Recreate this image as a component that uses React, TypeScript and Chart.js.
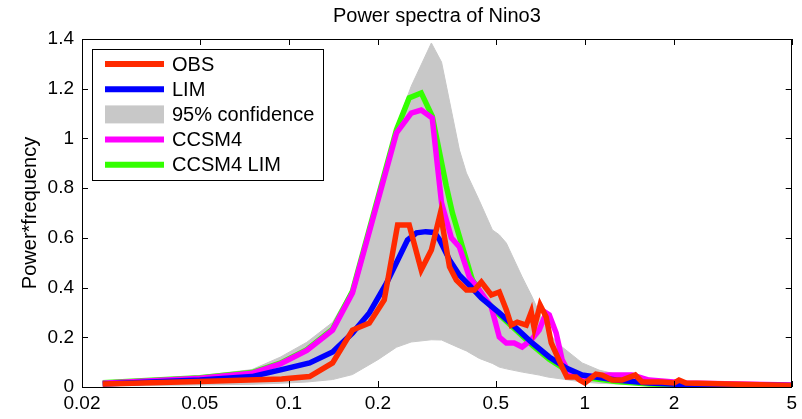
import React, { useEffect, useRef } from "react";
import { Chart, registerables } from "chart.js";

Chart.register(...registerables);

const FONT = '"Liberation Sans", Arial, Helvetica, sans-serif';

// ---- data ----
const xTickValues = [0.02, 0.05, 0.1, 0.2, 0.5, 1, 2, 5];

const obsFreq = [0.0235, 0.05, 0.0945, 0.1175, 0.1405, 0.164, 0.187, 0.21, 0.233, 0.255, 0.28, 0.303, 0.325, 0.349, 0.368, 0.398, 0.423, 0.447, 0.483, 0.514, 0.543, 0.564, 0.591, 0.634, 0.659, 0.674, 0.706, 0.74, 0.77, 0.838, 0.87, 0.934, 0.96, 1.0, 1.09, 1.144, 1.236, 1.335, 1.48, 1.56, 1.686, 1.822, 2.0, 2.08, 2.196, 5.0];
const obsPower = [0.012, 0.022, 0.032, 0.042, 0.097, 0.229, 0.257, 0.35, 0.652, 0.652, 0.471, 0.551, 0.7, 0.483, 0.43, 0.39, 0.39, 0.422, 0.37, 0.382, 0.31, 0.249, 0.261, 0.249, 0.302, 0.237, 0.33, 0.282, 0.177, 0.08, 0.04, 0.04, 0.028, 0.016, 0.052, 0.048, 0.028, 0.028, 0.048, 0.02, 0.02, 0.02, 0.016, 0.028, 0.016, 0.006];

const limFreq = [0.0235, 0.05, 0.075, 0.0945, 0.1175, 0.1405, 0.164, 0.187, 0.2137, 0.2516, 0.27, 0.29, 0.31, 0.322, 0.349, 0.377, 0.407, 0.447, 0.514, 0.586, 0.664, 0.758, 0.865, 0.979, 1.275, 1.647, 2.128, 5.0];
const limPower = [0.012, 0.028, 0.042, 0.07, 0.097, 0.141, 0.217, 0.298, 0.418, 0.591, 0.62, 0.625, 0.622, 0.595, 0.511, 0.45, 0.41, 0.358, 0.298, 0.237, 0.177, 0.121, 0.076, 0.048, 0.028, 0.016, 0.01, 0.006];

const ccsmFreq = [0.0235, 0.05, 0.075, 0.0935, 0.115, 0.1405, 0.164, 0.231, 0.259, 0.28, 0.305, 0.328, 0.354, 0.377, 0.407, 0.44, 0.483, 0.514, 0.543, 0.577, 0.614, 0.659, 0.701, 0.74, 0.758, 0.8, 0.838, 0.885, 0.979, 1.207, 1.444, 1.647, 2.2, 5.0];
const ccsmPower = [0.015, 0.035, 0.055, 0.093, 0.147, 0.229, 0.378, 1.022, 1.102, 1.114, 1.082, 0.74, 0.6, 0.563, 0.443, 0.39, 0.322, 0.201, 0.177, 0.177, 0.161, 0.189, 0.229, 0.298, 0.29, 0.217, 0.109, 0.056, 0.04, 0.048, 0.048, 0.028, 0.016, 0.008];

const ccsmLimFreq = [0.0235, 0.05, 0.075, 0.0935, 0.115, 0.1405, 0.164, 0.231, 0.255, 0.28, 0.305, 0.34, 0.357, 0.386, 0.417, 0.465, 0.514, 0.586, 0.664, 0.758, 0.865, 0.979, 1.275, 1.647, 2.128, 5.0];
const ccsmLimPower = [0.017, 0.037, 0.058, 0.096, 0.15, 0.233, 0.385, 1.035, 1.163, 1.183, 1.09, 0.81, 0.7, 0.563, 0.43, 0.345, 0.29, 0.228, 0.168, 0.112, 0.068, 0.04, 0.022, 0.012, 0.008, 0.004];

const confFreq = [0.0235, 0.05, 0.075, 0.0935, 0.115, 0.1405, 0.164, 0.2, 0.231, 0.259, 0.303, 0.328, 0.377, 0.398, 0.44, 0.487, 0.514, 0.543, 0.614, 0.664, 0.701, 0.75, 0.838, 0.979, 1.117, 1.444, 1.9, 5.0];
const confUpper = [0.022, 0.045, 0.07, 0.12, 0.18, 0.26, 0.4, 0.74, 1.05, 1.21, 1.384, 1.307, 0.953, 0.861, 0.75, 0.632, 0.612, 0.579, 0.443, 0.362, 0.3, 0.22, 0.161, 0.097, 0.068, 0.036, 0.02, 0.012];
const confLower = [0.004, 0.008, 0.011, 0.015, 0.02, 0.03, 0.05, 0.11, 0.16, 0.181, 0.19, 0.189, 0.157, 0.145, 0.115, 0.095, 0.08, 0.073, 0.06, 0.053, 0.048, 0.04, 0.032, 0.02, 0.015, 0.01, 0.008, 0.003];

const legendLabels = ["OBS", "LIM", "95% confidence", "CCSM4", "CCSM4 LIM"];

// ---- styles ----
const RED = "#ff2a00";
const BLUE = "#0000ff";
const MAGENTA = "#ff00ff";
const GREEN = "#33ff00";
const GRAY = "#c8c8c8";
const legendColors = [RED, BLUE, GRAY, MAGENTA, GREEN];
const legendIsPatch = [false, false, true, false, false];

const toPoints = (xs: number[], ys: number[]) => xs.map((x, i) => ({ x, y: ys[i] }));

const boxAndTicks = {
  id: "boxAndTicks",
  afterDatasetsDraw(chart: any) {
    const { ctx, chartArea } = chart;
    const { left, right, top, bottom } = chartArea;
    const xs = chart.scales.x;
    const ys = chart.scales.y;
    const L = 6;
    ctx.save();
    ctx.strokeStyle = "#000";
    ctx.lineWidth = 1;
    ctx.beginPath();
    xs.ticks.forEach((t: any) => {
      const px = Math.round(xs.getPixelForValue(t.value)) + 0.5;
      ctx.moveTo(px, bottom);
      ctx.lineTo(px, bottom - L);
      ctx.moveTo(px, top);
      ctx.lineTo(px, top + L);
    });
    ys.ticks.forEach((t: any) => {
      const py = Math.round(ys.getPixelForValue(t.value)) + 0.5;
      ctx.moveTo(left, py);
      ctx.lineTo(left + L, py);
      ctx.moveTo(right, py);
      ctx.lineTo(right - L, py);
    });
    ctx.stroke();
    ctx.strokeRect(Math.round(left) + 0.5, Math.round(top) + 0.5, Math.round(right - left) - 1, Math.round(bottom - top));
    ctx.restore();
  },
};

const insideLegend = {
  id: "insideLegend",
  afterDraw(chart: any) {
    const { ctx, chartArea } = chart;
    const bx = Math.round(chartArea.left) + 10;
    const by = Math.round(chartArea.top) + 10;
    const bw = 231;
    const bh = 131;
    ctx.save();
    ctx.fillStyle = "#fff";
    ctx.fillRect(bx, by, bw, bh);
    ctx.strokeStyle = "#000";
    ctx.lineWidth = 1;
    ctx.strokeRect(bx + 0.5, by + 0.5, bw, bh);
    ctx.font = `20px ${FONT}`;
    ctx.textBaseline = "middle";
    ctx.textAlign = "left";
    legendLabels.forEach((label, i) => {
      const cy = by + 15 + i * 25.2;
      if (legendIsPatch[i]) {
        ctx.fillStyle = legendColors[i];
        ctx.fillRect(bx + 13, cy - 9, 59, 18);
      } else {
        ctx.strokeStyle = legendColors[i];
        ctx.lineWidth = 6;
        ctx.beginPath();
        ctx.moveTo(bx + 13, cy);
        ctx.lineTo(bx + 72, cy);
        ctx.stroke();
      }
      ctx.fillStyle = "#000";
      ctx.fillText(label, bx + 80, cy + 1);
    });
    ctx.restore();
  },
};

export default function App() {
  const ref = useRef<HTMLCanvasElement | null>(null);

  useEffect(() => {
    if (!ref.current) return;
    const lineDs = (label: string, xs: number[], ys: number[], color: string) => ({
      label,
      data: toPoints(xs, ys),
      borderColor: color,
      backgroundColor: color,
      borderWidth: 5.5,
      pointRadius: 0,
      tension: 0,
      fill: false,
    });
    const chart = new Chart(ref.current, {
      type: "line",
      data: {
        datasets: [
          lineDs("OBS", obsFreq, obsPower, RED),
          lineDs("LIM", limFreq, limPower, BLUE),
          lineDs("CCSM4", ccsmFreq, ccsmPower, MAGENTA),
          lineDs("CCSM4 LIM", ccsmLimFreq, ccsmLimPower, GREEN),
          {
            label: "95% confidence",
            data: toPoints(confFreq, confUpper),
            borderColor: GRAY,
            backgroundColor: GRAY,
            borderWidth: 1,
            pointRadius: 0,
            tension: 0,
            fill: "+1",
          },
          {
            label: "conf lower",
            data: toPoints(confFreq, confLower),
            borderColor: GRAY,
            backgroundColor: GRAY,
            borderWidth: 1,
            pointRadius: 0,
            tension: 0,
            fill: false,
          },
        ] as any,
      },
      options: {
        responsive: false,
        animation: false,
        events: [],
        layout: { padding: { left: 0, right: 9, top: 0, bottom: 0 } },
        plugins: {
          legend: { display: false },
          tooltip: { enabled: false },
          title: {
            display: true,
            text: "Power spectra of Nino3",
            color: "#000",
            fullSize: false,
            font: { family: FONT, size: 20, weight: "normal" as any },
            padding: { top: 4, bottom: 11 },
          },
        },
        scales: {
          x: {
            type: "logarithmic",
            min: 0.02,
            max: 5,
            grid: { display: false, drawTicks: false, tickLength: 0 },
            border: { display: false },
            afterBuildTicks: (scale: any) => {
              scale.ticks = xTickValues.map((v) => ({ value: v }));
            },
            afterFit: (scale: any) => {
              scale.height = 32;
            },
            ticks: {
              autoSkip: false,
              maxRotation: 0,
              minRotation: 0,
              padding: 5,
              color: "#000",
              font: { family: FONT, size: 19 },
              callback: (v: any) => String(v),
            },
          },
          y: {
            min: 0,
            max: 1.4,
            grid: { display: false, drawTicks: false, tickLength: 0 },
            border: { display: false },
            afterFit: (scale: any) => {
              scale.width = 82;
            },
            ticks: {
              stepSize: 0.2,
              padding: 8,
              color: "#000",
              font: { family: FONT, size: 19 },
              callback: (v: any) => String(Math.round(Number(v) * 10) / 10),
            },
            title: {
              display: true,
              text: "Power*frequency",
              color: "#000",
              font: { family: FONT, size: 20 },
              padding: { top: 18, bottom: 0 },
            },
          },
        },
      } as any,
      plugins: [boxAndTicks, insideLegend],
    });
    return () => chart.destroy();
  }, []);

  return (
    <div style={{ position: "fixed", left: 0, top: 0, width: 802, height: 419, background: "#fff" }}>
      <canvas ref={ref} width={802} height={419} style={{ display: "block" }} />
    </div>
  );
}
